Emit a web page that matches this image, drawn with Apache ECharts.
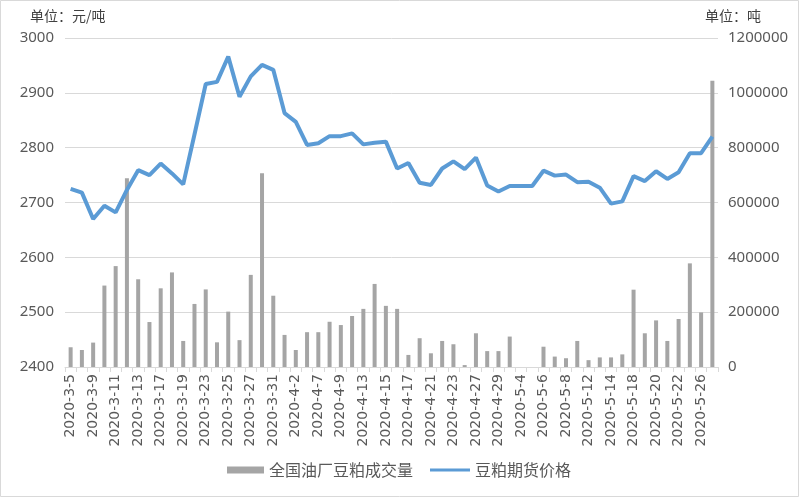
<!DOCTYPE html>
<html>
<head>
<meta charset="utf-8">
<script src="https://cdn.jsdelivr.net/npm/echarts@6/dist/echarts.min.js"></script>
<style>html,body{margin:0;padding:0;background:#fff;}#c{width:800px;height:500px;}</style>
</head>
<body>
<div id="c"></div>
<script>
var categories = ["2020-3-5","2020-3-6","2020-3-9","2020-3-10","2020-3-11","2020-3-12","2020-3-13","2020-3-16","2020-3-17","2020-3-18",
"2020-3-19","2020-3-20","2020-3-23","2020-3-24","2020-3-25","2020-3-26","2020-3-27","2020-3-30","2020-3-31","2020-4-1",
"2020-4-2","2020-4-3","2020-4-7","2020-4-8","2020-4-9","2020-4-10","2020-4-13","2020-4-14","2020-4-15","2020-4-16",
"2020-4-17","2020-4-20","2020-4-21","2020-4-22","2020-4-23","2020-4-24","2020-4-27","2020-4-28","2020-4-29","2020-4-30",
"2020-5-4","2020-5-5","2020-5-6","2020-5-7","2020-5-8","2020-5-11","2020-5-12","2020-5-13","2020-5-14","2020-5-15",
"2020-5-18","2020-5-19","2020-5-20","2020-5-21","2020-5-22","2020-5-25","2020-5-26","2020-5-27"];
var volume = [72000,62000,89000,297000,368000,688000,320000,164000,287000,345000,
95000,230000,283000,90000,202000,98000,336000,707000,260000,117000,
62000,127000,127000,165000,153000,186000,212000,303000,223000,212000,
44000,105000,50000,95000,83000,7000,123000,58000,58000,111000,
0,0,74000,38000,32000,95000,25000,35000,35000,46000,
282000,123000,170000,95000,175000,378000,199000,1044000];
var price = [2725,2718,2670,2694,2682,2723,2759,2750,2771,2753,
2733,2824,2916,2920,2966,2893,2930,2951,2942,2863,
2847,2805,2808,2821,2821,2826,2806,2809,2811,2762,
2772,2736,2732,2762,2775,2761,2782,2731,2720,2730,
2730,2730,2758,2749,2751,2737,2738,2727,2698,2702,
2748,2739,2757,2743,2755,2790,2790,2820];
var leftTicks = {min: 2400, max: 3000, interval: 100};
var rightTicks = {min: 0, max: 1200000, interval: 200000};
var seriesNames = ["全国油厂豆粕成交量", "豆粕期货价格"];

var chart = echarts.init(document.getElementById('c'), null, {renderer: 'canvas'});
var txt = '#595959';
var plain = function (v) { return String(v); };
var legendText = {fontSize: 16, color: txt, fontFamily: '"Noto Sans CJK SC", sans-serif'};
chart.setOption({
  animation: false,
  backgroundColor: '#fff',
  textStyle: {fontFamily: '"Noto Sans", "Noto Sans CJK SC", sans-serif'},
  grid: {left: 65, right: 82, top: 38, bottom: 133, containLabel: false},
  graphic: [
    {type: 'rect', shape: {x: 0.5, y: 0.5, width: 798, height: 496}, style: {fill: 'none', stroke: '#d9d9d9', lineWidth: 1}, silent: true},
    {type: 'text', left: 30, top: 9, style: {text: '单位：元/吨', fill: '#404040', font: '14px "Noto Sans CJK SC", sans-serif'}},
    {type: 'text', left: 705, top: 9, style: {text: '单位：吨', fill: '#404040', font: '14px "Noto Sans CJK SC", sans-serif'}}
  ],
  legend: [
    {left: 222, top: 457, itemGap: 8, itemWidth: 37, itemHeight: 7, textStyle: legendText,
     data: [{name: seriesNames[0], icon: 'rect'}]},
    {left: 425, top: 457, itemGap: 8, itemWidth: 40, itemHeight: 3, textStyle: legendText,
     data: [{name: seriesNames[1], icon: 'rect'}]}
  ],
  xAxis: {
    type: 'category', data: categories, boundaryGap: true,
    axisLine: {lineStyle: {color: '#d9d9d9'}},
    axisTick: {show: true, interval: 0, length: 5, lineStyle: {color: '#d9d9d9'}},
    axisLabel: {interval: 1, rotate: 90, fontSize: 14, color: txt, margin: 7, fontFamily: '"DejaVu Sans", sans-serif'}
  },
  yAxis: [
    {type: 'value', min: leftTicks.min, max: leftTicks.max, interval: leftTicks.interval,
     axisLine: {show: false}, axisTick: {show: false},
     axisLabel: {fontSize: 15, color: txt, margin: 11, formatter: plain},
     splitLine: {lineStyle: {color: '#d9d9d9', width: 1}}},
    {type: 'value', min: rightTicks.min, max: rightTicks.max, interval: rightTicks.interval,
     axisLine: {show: false}, axisTick: {show: false},
     axisLabel: {fontSize: 15, color: txt, margin: 10, formatter: plain},
     splitLine: {show: false}}
  ],
  series: [
    {name: seriesNames[0], type: 'bar', yAxisIndex: 1, data: volume, barWidth: 4,
     itemStyle: {color: '#a5a5a5'}},
    {name: seriesNames[1], type: 'line', yAxisIndex: 0, data: price, symbol: 'none',
     lineStyle: {color: '#5b9bd5', width: 4}, itemStyle: {color: '#5b9bd5'}}
  ]
});
</script>
</body>
</html>
